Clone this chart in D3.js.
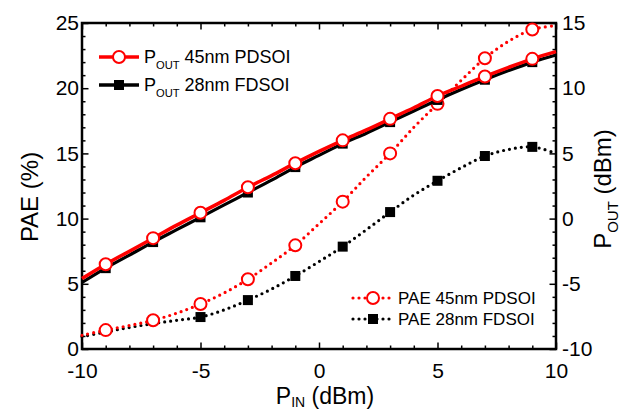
<!DOCTYPE html>
<html lang="en">
<head>
<meta charset="utf-8">
<title>PAE and POUT vs PIN</title>
<script src="https://d3js.org/d3.v7.min.js"></script>
<style>
  body { margin: 0; background: #fff; }
  text { font-family: "Liberation Sans", Arial, sans-serif; fill: #000; }
</style>
</head>
<body>
<div id="chart"></div>
<script>
// input power (dBm), every integer; markers on odd values
var pIn = [-10, -9, -8, -7, -6, -5, -4, -3, -2, -1, 0, 1, 2, 3, 4, 5, 6, 7, 8, 9, 10];
// output power (dBm), right axis
var pout45 = [-4.6, -3.5, -2.5, -1.5, -0.5, 0.45, 1.4, 2.4, 3.3, 4.25, 5.15, 6.0, 6.8, 7.65, 8.5, 9.4, 10.15, 10.9, 11.6, 12.25, 12.8];
var pout28 = [-4.9, -3.8, -2.8, -1.8, -0.85, 0.1, 1.05, 2.0, 2.95, 3.95, 4.85, 5.75, 6.55, 7.4, 8.25, 9.1, 9.9, 10.65, 11.35, 12.0, 12.55];
// PAE (%), left axis
var pae45 = [1.05, 1.45, 1.8, 2.2, 2.75, 3.45, 4.3, 5.35, 6.6, 7.95, 9.6, 11.3, 13.2, 15.0, 17.0, 18.8, 20.6, 22.3, 23.6, 24.5, 24.8];
var pae28 = [0.95, 1.3, 1.65, 1.95, 2.2, 2.45, 3.0, 3.75, 4.6, 5.6, 6.7, 7.85, 9.15, 10.5, 11.8, 12.9, 13.9, 14.8, 15.3, 15.5, 15.0];
var xTicks = [-10, -5, 0, 5, 10];
var paeTicks = [0, 5, 10, 15, 20, 25];
var poutTicks = [-10, -5, 0, 5, 10, 15];

var W = 631, H = 410;
var margin = {top: 23, right: 75, bottom: 61, left: 82};
var w = W - margin.left - margin.right, h = H - margin.top - margin.bottom;

var svg = d3.select("#chart").append("svg").attr("width", W).attr("height", H);
var g = svg.append("g").attr("transform", "translate(" + margin.left + "," + margin.top + ")");

var x = d3.scaleLinear().domain([-10, 10]).range([0, w]);
var yL = d3.scaleLinear().domain([0, 25]).range([h, 0]);
var yR = d3.scaleLinear().domain([-10, 15]).range([h, 0]);

// axes with inward ticks, minor every 1
function addAxis(axisFn, scale, majors, transform, pad) {
  var minors = d3.range(scale.domain()[0], scale.domain()[1] + 1, 1).filter(function (v) { return majors.indexOf(v) < 0; });
  var a = g.append("g").attr("transform", transform || null);
  a.append("g").call(axisFn(scale).tickValues(minors).tickSize(-3.5).tickFormat(""));
  var m = a.append("g").call(axisFn(scale).tickValues(majors).tickSize(-6.5).tickPadding(pad || 0)
    .tickFormat(pad ? function (d) { return String(d); } : ""));
  a.selectAll("path.domain").remove();
  a.selectAll("line").attr("stroke", "#000").attr("stroke-width", 1.5);
  m.selectAll("text").style("font-size", "21px").attr("font-family", "Liberation Sans, Arial, sans-serif");
  return a;
}
addAxis(d3.axisBottom, x, xTicks, "translate(0," + h + ")", 14);
addAxis(d3.axisTop, x, xTicks, null, 0);
addAxis(d3.axisLeft, yL, paeTicks, null, 3);
addAxis(d3.axisRight, yR, poutTicks, "translate(" + w + ",0)", 6);

g.append("rect").attr("width", w).attr("height", h)
  .attr("fill", "none").attr("stroke", "#000").attr("stroke-width", 2.5);

var plot = g.append("g");
var idx = d3.range(pIn.length);
var odd = idx.filter(function (i) { return Math.abs(pIn[i]) % 2 === 1; });

function series(vals, scale, color, dotted, marker, width) {
  var line = d3.line().curve(d3.curveCatmullRom)
    .x(function (i) { return x(pIn[i]); })
    .y(function (i) { return scale(vals[i]); });
  var p = plot.append("path").datum(idx).attr("d", line)
    .attr("fill", "none").attr("stroke", color).attr("stroke-width", width);
  if (dotted) p.attr("stroke-dasharray", "0 6").attr("stroke-linecap", "round");
  var pts = odd;
  if (dotted && marker === "square") pts = odd.filter(function (i) { return pIn[i] >= -5; });
  if (marker === "circle") {
    plot.selectAll(null).data(pts).enter().append("circle")
      .attr("cx", function (i) { return x(pIn[i]); })
      .attr("cy", function (i) { return scale(vals[i]); })
      .attr("r", 6).attr("fill", "#fff").attr("stroke", color).attr("stroke-width", 2);
  } else {
    plot.selectAll(null).data(pts).enter().append("rect")
      .attr("x", function (i) { return x(pIn[i]) - 5; })
      .attr("y", function (i) { return scale(vals[i]) - 5; })
      .attr("width", 10).attr("height", 10).attr("fill", color);
  }
}
series(pae28, yL, "#000", true, "square", 3.2);
series(pae45, yL, "#f00", true, "circle", 3.2);
series(pout28, yR, "#000", false, "square", 3.2);
series(pout45, yR, "#f00", false, "circle", 3.5);

// legends
function legendItem(lx, ly, color, dotted, marker, parts, fs) {
  var l = svg.append("g");
  var ln = l.append("line").attr("x1", lx).attr("x2", lx + 40).attr("y1", ly).attr("y2", ly)
    .attr("stroke", color).attr("stroke-width", dotted ? 3.2 : 3.5);
  if (dotted) ln.attr("stroke-dasharray", "0 6").attr("stroke-linecap", "round");
  if (marker === "circle") {
    l.append("circle").attr("cx", lx + 20).attr("cy", ly).attr("r", 6)
      .attr("fill", "#fff").attr("stroke", color).attr("stroke-width", 2);
  } else {
    l.append("rect").attr("x", lx + 15).attr("y", ly - 5).attr("width", 10).attr("height", 10).attr("fill", color);
  }
  var t = l.append("text").attr("x", lx + 45).attr("y", ly + fs * 0.36).style("font-size", fs + "px");
  parts.forEach(function (p) {
    var s = t.append("tspan").text(p[0]);
    if (p[1]) s.style("font-size", (fs * 0.62) + "px").attr("dy", 6);
    else if (p[2]) s.attr("dy", -6);
  });
}
legendItem(99, 57, "#f00", false, "circle", [["P"], ["OUT", true], [" 45nm PDSOI", false, true]], 18);
legendItem(99, 85, "#000", false, "square", [["P"], ["OUT", true], [" 28nm FDSOI", false, true]], 18);
legendItem(353, 298, "#f00", true, "circle", [["PAE 45nm PDSOI"]], 17);
legendItem(353, 319, "#000", true, "square", [["PAE 28nm FDSOI"]], 17);

// axis titles
var xt = svg.append("text").attr("x", 325).attr("y", 404).attr("text-anchor", "middle").style("font-size", "23px");
xt.append("tspan").text("P");
xt.append("tspan").text("IN").style("font-size", "14px").attr("dy", 3);
xt.append("tspan").text(" (dBm)").attr("dy", -3);

svg.append("text").attr("transform", "translate(38,197) rotate(-90)")
  .attr("text-anchor", "middle").style("font-size", "24px").text("PAE (%)");

var yt = svg.append("text").attr("transform", "translate(611,189) rotate(-90)")
  .attr("text-anchor", "middle").style("font-size", "24px");
yt.append("tspan").text("P");
yt.append("tspan").text("OUT").style("font-size", "15px").attr("dy", 7);
yt.append("tspan").text(" (dBm)").attr("dy", -7);
</script>
</body>
</html>
